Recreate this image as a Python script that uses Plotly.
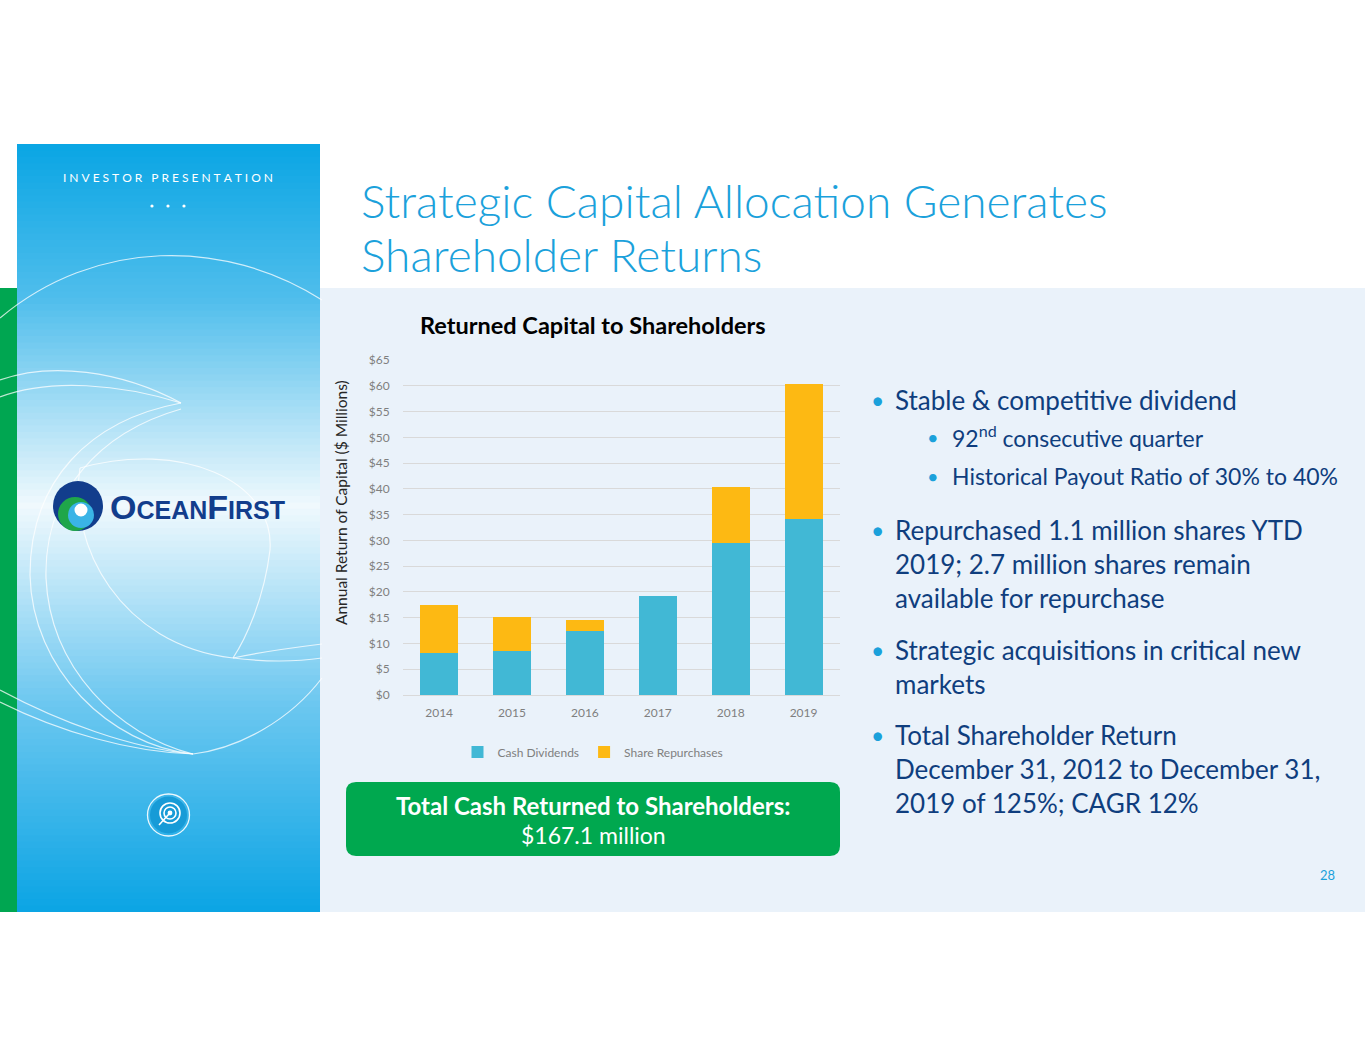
import plotly.graph_objects as go

W, H = 1365, 1055

# chart data ($ millions)
years = ["2014", "2015", "2016", "2017", "2018", "2019"]
cash_dividends = [8.1, 8.6, 12.5, 19.3, 29.4, 34.1]
share_repurchases = [9.3, 6.6, 2.0, 0.0, 11.0, 26.2]

# the span only splits "ti" so the font does not join it into a ligature
title_lines = ["Strategic Capital Alloca<span style='color:#1BA1DB'>t</span>ion Generates",
               "Shareholder Returns"]
chart_title = "Returned Capital to Shareholders"
y_title = "Annual Return of Capital ($ Millions)"
total_label = "Total Cash Returned to Shareholders:"
total_value = "$167.1 million"

# (level, text, has bullet, y)
bullets = [
    (1, "Stable &amp; competitive dividend", True, 400),
    (2, "92<sup>nd</sup> consecutive quarter", True, 437),
    (2, "Historical Payout Ratio of 30% to 40%", True, 476),
    (1, "Repurchased 1.1 million shares YTD", True, 530),
    (1, "2019; 2.7 million shares remain", False, 564),
    (1, "available for repurchase", False, 598),
    (1, "Strategic acquisitions in critical new", True, 650),
    (1, "markets", False, 684),
    (1, "Total Shareholder Return", True, 735),
    (1, "December 31, 2012 to December 31,", False, 769),
    (1, "2019 of 125%; CAGR 12%", False, 803),
]

NAVY = "#0F3E7E"
SKY = "#1BA1DB"
FONT = "Lato, 'Open Sans', sans-serif"


def px(x):
    return x / W


def py(y):
    return 1 - y / H


def rect(x0, y0, x1, y1, color, layer="below"):
    return dict(type="rect", xref="paper", yref="paper", x0=px(x0), x1=px(x1),
                y0=py(y1), y1=py(y0), fillcolor=color, line=dict(width=0), layer=layer)


def circle(cx, cy, r, fill=None, line=None, width=1.5, layer="above"):
    return dict(type="circle", xref="paper", yref="paper",
                x0=px(cx - r), x1=px(cx + r), y0=py(cy + r), y1=py(cy - r),
                fillcolor=fill or "rgba(0,0,0,0)",
                line=dict(color=line or "rgba(0,0,0,0)", width=width if line else 0),
                layer=layer)


def curve(pts, color="rgba(255,255,255,0.75)", width=1.2):
    d = "M %f,%f" % (px(pts[0][0]), py(pts[0][1]))
    rest = pts[1:]
    for i in range(0, len(rest), 3):
        a, b, c = rest[i:i + 3]
        d += " C %f,%f %f,%f %f,%f" % (px(a[0]), py(a[1]), px(b[0]), py(b[1]), px(c[0]), py(c[1]))
    return dict(type="path", xref="paper", yref="paper", path=d,
                line=dict(color=color, width=width), layer="below")


def lerp(c1, c2, t):
    return "rgb(%d,%d,%d)" % tuple(round(a + (b - a) * t) for a, b in zip(c1, c2))


shapes = []
# content background + green strip
shapes.append(rect(320, 288, W, 912, "#EAF2FA"))
shapes.append(rect(0, 288, 17, 912, "#00A651"))

# left panel vertical gradient (stacked bands)
stops = [(144, (10, 165, 228)), (300, (80, 190, 236)), (505, (240, 249, 253)),
         (700, (110, 200, 240)), (912, (10, 164, 228))]
bands = 120
top, bot = 144, 912
for i in range(bands):
    y0 = top + (bot - top) * i / bands
    y1 = top + (bot - top) * (i + 1) / bands
    ym = (y0 + y1) / 2
    for (sa, ca), (sb, cb) in zip(stops, stops[1:]):
        if sa <= ym <= sb:
            col = lerp(ca, cb, (ym - sa) / (sb - sa))
            break
    shapes.append(rect(17, y0, 320, min(y1 + 2, bot), col))

# swirl lines
shapes += [
    curve([(0, 318), (95, 238), (225, 238), (322, 300)]),
    curve([(0, 380), (50, 362), (120, 370), (181, 403)]),
    curve([(0, 397), (50, 378), (120, 384), (181, 403)]),
    curve([(181, 403), (90, 420), (30, 480), (30, 575), (32, 670), (110, 745), (193, 754)]),
    curve([(181, 409), (100, 432), (44, 492), (46, 578), (50, 668), (118, 735), (193, 754)]),
    curve([(0, 690), (60, 722), (130, 748), (193, 754)]),
    curve([(0, 702), (60, 732), (130, 752), (193, 754)]),
    curve([(80, 468), (180, 440), (275, 480), (270, 550), (264, 600), (245, 640), (233, 658)]),
    curve([(80, 468), (68, 545), (120, 645), (233, 658)]),
    curve([(233, 658), (260, 652), (290, 648), (322, 644)]),
    curve([(233, 658), (265, 662), (295, 662), (322, 658)]),
    curve([(322, 678), (290, 720), (240, 748), (193, 754)]),
]

# three dots under "INVESTOR PRESENTATION"
for x in (152, 168, 184):
    shapes.append(circle(x, 206, 1.6, fill="white"))

# OceanFirst mark
shapes += [
    circle(78, 506, 25, fill="#123D8C"),
    circle(75, 514, 17, fill="#1FA64A"),
    circle(81, 515, 13, fill="#3AB4E6"),
    circle(81, 510, 6.5, fill="white"),
]

# target icon
shapes += [
    circle(168.5, 815, 21, line="rgba(255,255,255,0.9)", width=1.3),
    circle(168.5, 815, 18.5, fill="#179BD7"),
    circle(170, 813, 10, line="white", width=1.6),
    circle(170, 813, 6, line="white", width=1.6),
    circle(170, 813, 2.4, fill="white"),
    dict(type="line", xref="paper", yref="paper", x0=px(159), y0=py(825), x1=px(169), y1=py(814),
         line=dict(color="white", width=1.6)),
]

# green total box (rounded)
bx0, by0, bx1, by1, r = 346, 782, 840, 856, 10
box_path = (
    "M %f,%f L %f,%f Q %f,%f %f,%f L %f,%f Q %f,%f %f,%f L %f,%f Q %f,%f %f,%f L %f,%f Q %f,%f %f,%f Z"
    % (px(bx0 + r), py(by0), px(bx1 - r), py(by0), px(bx1), py(by0), px(bx1), py(by0 + r),
       px(bx1), py(by1 - r), px(bx1), py(by1), px(bx1 - r), py(by1),
       px(bx0 + r), py(by1), px(bx0), py(by1), px(bx0), py(by1 - r),
       px(bx0), py(by0 + r), px(bx0), py(by0), px(bx0 + r), py(by0))
)
shapes.append(dict(type="path", xref="paper", yref="paper", path=box_path,
                   fillcolor="#00A84F", line=dict(width=0), layer="below"))

annotations = []


def note(x, y, text, size, color, xanchor="left", yanchor="middle", family=FONT, weight=None, **kw):
    font = dict(size=size, color=color, family=family)
    if weight:
        font["weight"] = weight
    annotations.append(dict(x=px(x), y=py(y), xref="paper", yref="paper", text=text,
                            showarrow=False, xanchor=xanchor, yanchor=yanchor,
                            font=font, **kw))


note(359, 201, title_lines[0], 46, SKY, weight=300)
note(359, 254, title_lines[1], 46, SKY, weight=300)
note(593, 325, "<b>%s</b>" % chart_title, 23.5, "black", xanchor="center")
note(341, 503, y_title, 15.5, "#262626", xanchor="center", textangle=-90)
note(593, 805, "<b>%s</b>" % total_label, 24, "white", xanchor="center")
note(593, 835, total_value, 23, "white", xanchor="center")
note(1337, 875, "28", 13, SKY, xanchor="right")

note(168, 177, "\u2005".join("INVESTOR") + "\u2003" + "\u2005".join("PRESENTATION"),
     12, "white", xanchor="center")
note(108, 507,
     "<b><span style='font-size:34px'>O</span>CEAN<span style='font-size:34px'>F</span>IRST</b>",
     25, "#123D8C", family="'Liberation Sans', Arial, sans-serif")

for level, text, dot, y in bullets:
    tx = 893 if level == 1 else 950
    bx = 877 if level == 1 else 933
    size = 26 if level == 1 else 23
    if dot:
        note(bx, y, "•", size - 3, SKY, xanchor="center")
    note(tx, y, text, size, NAVY)

fig = go.Figure()
fig.add_trace(go.Bar(x=years, y=cash_dividends, name="Cash Dividends",
                     marker=dict(color="#41B8D5", line=dict(width=0))))
fig.add_trace(go.Bar(x=years, y=share_repurchases, name="Share Repurchases",
                     marker=dict(color="#FDB913", line=dict(width=0))))

fig.update_layout(
    width=W, height=H,
    margin=dict(l=0, r=0, t=0, b=0, pad=0, autoexpand=False),
    paper_bgcolor="white",
    plot_bgcolor="rgba(0,0,0,0)",
    barmode="stack",
    bargap=0.48,
    font=dict(family=FONT, color="#7F7F7F", size=12),
    shapes=shapes,
    annotations=annotations,
    showlegend=True,
    legend=dict(orientation="h", x=px(593), xanchor="center", y=py(752), yanchor="middle",
                bgcolor="rgba(0,0,0,0)", font=dict(size=12, color="#7F7F7F"),
                itemwidth=30, traceorder="normal"),
    xaxis=dict(domain=[px(402.7), px(840)], type="category", showgrid=False,
               showline=True, linecolor="#D9D9D9", linewidth=1, ticks="",
               ticklabelstandoff=7, automargin=False,
               tickfont=dict(size=12, color="#7F7F7F"), fixedrange=True),
    yaxis=dict(domain=[py(695), py(360)], range=[0, 65], dtick=5, tickprefix="$",
               showgrid=True, gridcolor="#D9D9D9", gridwidth=1, zeroline=False,
               showline=False, ticks="", ticklabelstandoff=12, automargin=False,
               tickfont=dict(size=12, color="#7F7F7F"), fixedrange=True),
)

fig.write_html("out.html", config={"displayModeBar": False},
               post_script="document.body.style.margin='0';document.body.style.overflow='hidden';")
